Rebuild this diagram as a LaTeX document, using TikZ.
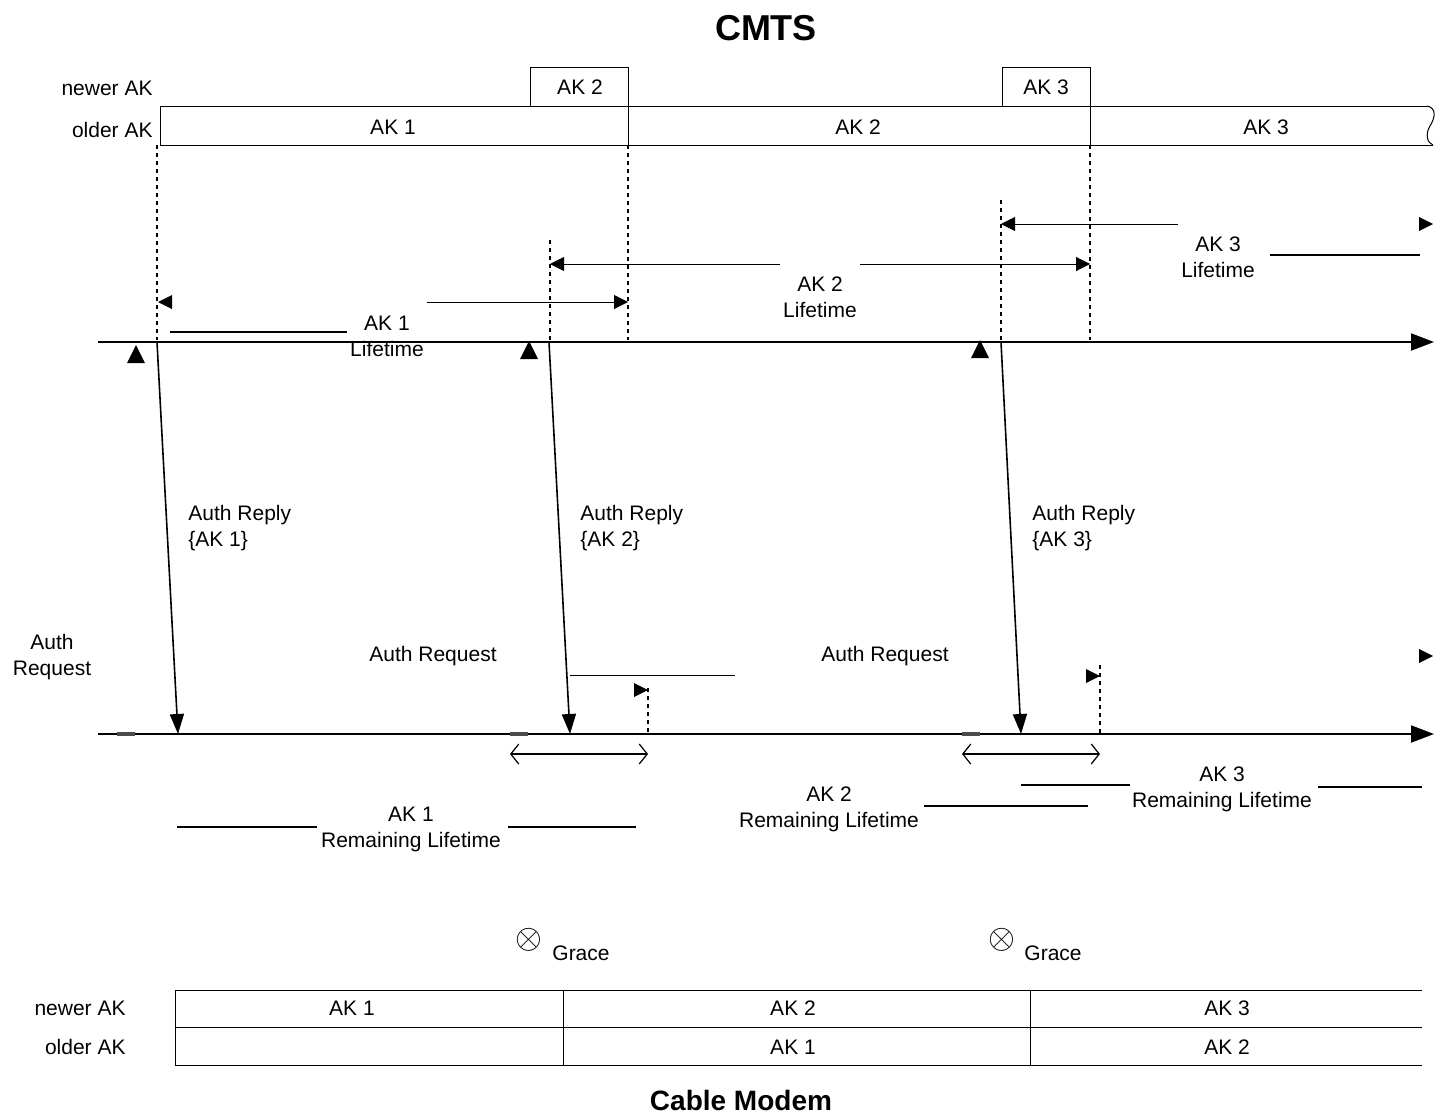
\documentclass[tikz,border=0pt]{standalone}
\usepackage{fontspec}
\setmainfont{Liberation Sans}
\usetikzlibrary{arrows.meta}
\tikzset{
  txt/.style={font=\fontsize{10.5}{13}\selectfont,inner sep=0pt,align=center},
  ttl/.style={font=\fontsize{18}{20}\selectfont\bfseries,inner sep=0pt},
  box/.style={line width=.5pt},
  axis/.style={line width=1pt,-{Triangle[length=11.5pt,width=8.5pt]}},
  reply/.style={line width=.8pt,-{Triangle[length=10pt,width=7pt]}},
  dots/.style={line width=.6pt,dash pattern=on 2pt off 2pt},
  span/.style={line width=.5pt},
  bar/.style={line width=1.3pt},
  grace/.style={line width=.6pt,{Straight Barb[length=4pt,width=10pt]}-{Straight Barb[length=4pt,width=10pt]}},
  tiphead/.pic={\fill (0,0) -- (-14,-7) -- (-14,7) -- cycle;}
}
\begin{document}
\begin{tikzpicture}[x=.5pt,y=-.5pt]
  \useasboundingbox (0,0) rectangle (1438,1119);
  \node[ttl] (cmts) at (766,28) {CMTS};
  \node[ttl,font=\fontsize{14}{16}\selectfont\bfseries] (cm) at (741,1100) {Cable Modem};
  % CMTS key boxes
  \draw[box] (530,106) |- (628,67) -- (628,106);
  \draw[box] (1002,106) |- (1090,67) -- (1090,106);
  \draw[box] (1427,106) -- (160,106) -- (160,145) -- (1433,145);
  \draw[box] (628,106) -- (628,145) (1090,106) -- (1090,145);
  \draw[box] (1427,106) .. controls (1437,108) and (1435,118) .. (1430,126)
    .. controls (1425,134) and (1427,143) .. (1433,145);
  \node[txt,anchor=east] (cmtsnew) at (153,88) {newer AK};
  \node[txt,anchor=east] (cmtsold) at (153,130) {older AK};
  \node[txt] (cnewtwo) at (580,87) {AK 2};
  \node[txt] (cnewthree) at (1046,87) {AK 3};
  \node[txt] (coldone) at (393,127) {AK 1};
  \node[txt] (coldtwo) at (858,127) {AK 2};
  \node[txt] (coldthree) at (1266,127) {AK 3};
  % time lines
  \coordinate (cmtsL) at (98,342); \coordinate (cmtsR) at (1434,342);
  \coordinate (cmL) at (98,734); \coordinate (cmR) at (1434,734);
  \draw[axis] (cmtsL) -- (cmtsR);
  \draw[axis] (cmL) -- (cmR);
  \foreach \x in {117,510,962}
    \draw[line width=1.6pt,black!70] (\x,734) -- +(18,0);
  \foreach \x/\y in {157/145,628/145,1090/145,550/240,1001/200}
    \draw[dots] (\x,\y) -- (\x,340);
  \foreach \x/\y in {648/688,1100/665}
    \draw[dots] (\x,\y) -- (\x,733);
  % auth replies
  \foreach \s/\r/\k in {157/178/1,549/570/2,1001/1021/3}{
    \coordinate (send\k) at (\s,342); \coordinate (recv\k) at (\r,734);
    \draw[reply] (send\k) -- (recv\k);
    \node[txt,align=left,anchor=west] (reply\k) at (\s+31,528) {Auth Reply\\\{AK \k\}};
  }
  \foreach \x/\y in {136/345,529/341,980/340}
    \pic[rotate=90,scale=1.3] at (\x,\y) {tiphead};
  % lifetimes
  \node[txt] (lifeone) at (387,336) {AK 1\\Lifetime};
  \node[txt] (lifetwo) at (820,297) {AK 2\\Lifetime};
  \node[txt] (lifethree) at (1218,257) {AK 3\\Lifetime};
  \pic[rotate=180] at (158,302) {tiphead};
  \coordinate (oneA) at (427,302); \coordinate (oneB) at (628,302);
  \draw[span,-{Triangle[length=7pt,width=7pt]}] (oneA) -- (oneB);
  \coordinate (twoA) at (780,264); \coordinate (twoB) at (550,264);
  \coordinate (twoC) at (860,264); \coordinate (twoD) at (1090,264);
  \draw[span,-{Triangle[length=7pt,width=7pt]}] (twoA) -- (twoB);
  \draw[span,-{Triangle[length=7pt,width=7pt]}] (twoC) -- (twoD);
  \coordinate (threeA) at (1178,224); \coordinate (threeB) at (1001,224);
  \draw[span,-{Triangle[length=7pt,width=7pt]}] (threeA) -- (threeB);
  \pic at (1433,224) {tiphead};
  \draw[bar] (170,332) -- (347,332);
  \draw[bar] (1270,255) -- (1420,255);
  % auth requests
  \node[txt] (reqone) at (52,657) {Auth\\Request};
  \node[txt] (reqtwo) at (433,656) {Auth Request};
  \node[txt] (reqthree) at (885,656) {Auth Request};
  \draw[span] (570,675) -- (735,675);
  \pic at (648,690) {tiphead};
  \pic at (1100,676) {tiphead};
  \pic at (1433,656) {tiphead};
  % grace periods
  \coordinate (gtwoA) at (510,754); \coordinate (gtwoB) at (648,754);
  \coordinate (gthreeA) at (962,754); \coordinate (gthreeB) at (1100,754);
  \draw[grace] (gtwoA) -- (gtwoB);
  \draw[grace] (gthreeA) -- (gthreeB);
  % remaining lifetimes
  \node[txt] (remone) at (411,829) {AK 1\\Remaining Lifetime};
  \node[txt] (remtwo) at (829,809) {AK 2\\Remaining Lifetime};
  \node[txt] (remthree) at (1222,789) {AK 3\\Remaining Lifetime};
  \draw[bar] (177,827) -- (317,827) (508,827) -- (636,827);
  \draw[bar] (924,806) -- (1088,806);
  \draw[bar] (1021,785) -- (1130,785) (1318,787) -- (1422,787);
  \node[txt,font=\fontsize{18}{18}\selectfont] (gxtwo) at (529,940) {$\otimes$};
  \node[txt] (gracetwo) at (581,953) {Grace};
  \node[txt,font=\fontsize{18}{18}\selectfont] (gxthree) at (1002,940) {$\otimes$};
  \node[txt] (gracethree) at (1053,953) {Grace};
  % cable modem key table
  \draw[box] (1422,990) -- (175,990) -- (175,1065) -- (1422,1065);
  \draw[box] (175,1027) -- (1422,1027) (563,990) -- (563,1065) (1030,990) -- (1030,1065);
  \node[txt,anchor=east] (cmnew) at (126,1008) {newer AK};
  \node[txt,anchor=east] (cmold) at (126,1047) {older AK};
  \node[txt] (mnewone) at (352,1008) {AK 1};
  \node[txt] (mnewtwo) at (793,1008) {AK 2};
  \node[txt] (mnewthree) at (1227,1008) {AK 3};
  \node[txt] (moldone) at (793,1047) {AK 1};
  \node[txt] (moldtwo) at (1227,1047) {AK 2};
\end{tikzpicture}
\end{document}
